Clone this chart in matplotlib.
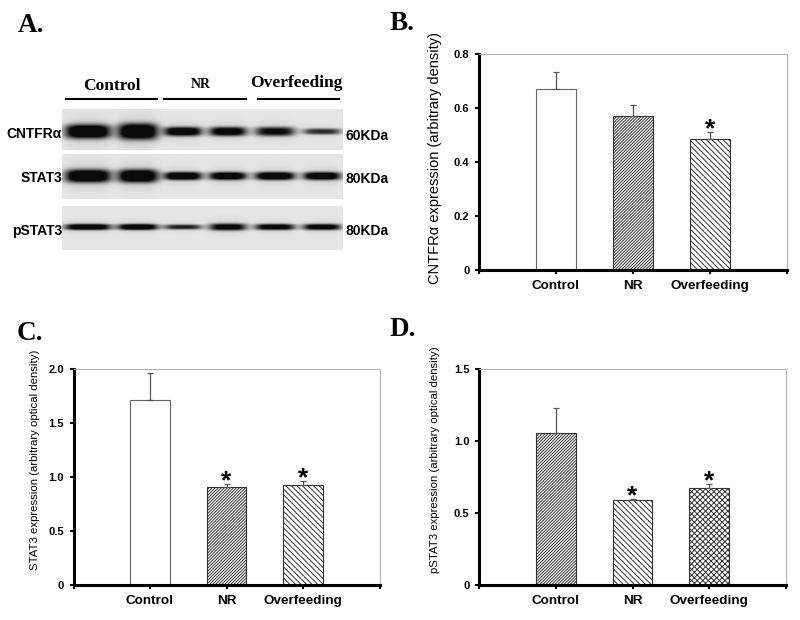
import numpy as np
import matplotlib.pyplot as plt

plt.rcParams['font.family'] = ['Liberation Sans', 'DejaVu Sans']
plt.rcParams['hatch.linewidth'] = 0.7

groups = ['Control', 'NR', 'Overfeeding']

# B. CNTFRa
cntfr_mean = [0.669, 0.570, 0.484]
cntfr_err = [0.063, 0.040, 0.026]
cntfr_star = [False, False, True]

# C. STAT3
stat3_mean = [1.713, 0.905, 0.926]
stat3_err = [0.247, 0.027, 0.037]
stat3_star = [False, True, True]

# D. pSTAT3
pstat3_mean = [1.053, 0.588, 0.671]
pstat3_err = [0.176, 0.012, 0.030]
pstat3_star = [False, True, True]

# A. western blot, six lanes (2 per group)
blot_rows = ['CNTFR\u03b1', 'STAT3', 'pSTAT3']
blot_kda = ['60KDa', '80KDa', '80KDa']
cntfr_band = [1.0, 1.0, 0.9, 0.85, 0.75, 0.6]
cntfr_thick = [14, 16, 9, 9, 9, 6]
stat3_band = [1.0, 1.0, 0.95, 0.9, 0.95, 0.9]
stat3_thick = [13, 13, 8, 8, 8, 8]
pstat3_band = [0.95, 0.95, 0.65, 0.8, 0.85, 0.85]
pstat3_thick = [6, 6, 5, 7, 6, 6]

W, H = 800, 620
fig = plt.figure(figsize=(8, 6.2), dpi=100)

def rect(x0, y0, x1, y1):
    return [x0 / W, 1 - y1 / H, (x1 - x0) / W, (y1 - y0) / H]

# ---------- panel A ----------
ax_a = fig.add_axes([0, 0, 1, 1])
ax_a.axis('off')

lane_x = [88, 138, 183, 228, 275, 322]
lane_w = [46, 40, 38, 38, 40, 38]
strips = [(109, 150, 131.5), (154, 199, 176), (206, 250, 227)]
bands = [(cntfr_band, cntfr_thick), (stat3_band, stat3_thick), (pstat3_band, pstat3_thick)]
bx0, bx1 = 62, 343
for (ya, yb, yc), (dark, thick) in zip(strips, bands):
    X, Y = np.meshgrid(np.arange(bx0, bx1) + 0.5, np.arange(ya, yb) + 0.5)
    img = np.full(X.shape, 0.90)
    for i in range(6):
        px_ = np.exp(-np.abs((X - lane_x[i]) / (lane_w[i] / 2)) ** 4)
        py_ = np.exp(-np.abs((Y - yc) / (thick[i] / 2)) ** 3)
        halo = np.exp(-((Y - yc) / thick[i]) ** 2)
        img -= dark[i] * px_ * (1.1 * py_ + 0.12 * halo)
    ax_a.imshow(np.clip(img, 0.04, 1), cmap='gray', vmin=0, vmax=1,
                extent=(bx0, bx1, yb, ya), aspect='auto', interpolation='bilinear')

ax_a.set_xlim(0, W)
ax_a.set_ylim(H, 0)

serif = dict(family=['Liberation Serif', 'DejaVu Serif'], fontweight='bold')
ax_a.text(112, 89.5, 'Control', ha='center', va='baseline', fontsize=12.5, **serif)
ax_a.text(201, 87.5, 'NR', ha='center', va='baseline', fontsize=10, **serif)
ax_a.text(296, 87, 'Overfeeding', ha='center', va='baseline', fontsize=12.5, **serif)
for xa, xb in [(66, 157), (164, 246), (258, 339)]:
    ax_a.plot([xa, xb], [98.7, 98.7], color='black', lw=1.5)

row_base = [138, 181.5, 235]
kda_base = [140, 183, 235]
for name, kda, yb1, yb2 in zip(blot_rows, blot_kda, row_base, kda_base):
    ax_a.text(62, yb1, name, ha='right', va='baseline', fontsize=10, fontweight='bold')
    ax_a.text(345, yb2, kda, ha='left', va='baseline', fontsize=10, fontweight='bold')

# panel letters
for letter, xl, yl in [('A.', 18, 31.5), ('B.', 390, 29.5), ('C.', 17, 340), ('D.', 390, 336)]:
    fig.text(xl / W, 1 - yl / H, letter, ha='left', va='baseline', fontsize=19.5, **serif)


# ---------- bar panels ----------
def bar_panel(r, means, errs, stars, hatches, ymax, yticks, ytlabels, ylabel, ylsize, lab_xy):
    ax = fig.add_axes(r)
    x = np.arange(1, 4)
    for xi, m, h in zip(x, means, hatches):
        if h:
            ax.bar(xi, m, width=0.52, color='white', edgecolor='#333333', lw=0.8, hatch=h, zorder=2)
        else:
            ax.bar(xi, m, width=0.52, color='white', edgecolor='#666666', lw=0.8, zorder=2)
    ax.errorbar(x, means, yerr=[np.zeros(3), errs], fmt='none', ecolor='#555555',
                elinewidth=0.9, capsize=2.5, capthick=0.9, zorder=3)
    for xi, m, e, s in zip(x, means, errs, stars):
        if s:
            ax.annotate('*', xy=(xi, m + e), xytext=(0, 2), textcoords='offset points',
                        ha='center', va='center', fontsize=19, fontweight='bold')
    ax.set_xlim(0, 4)
    ax.set_ylim(0, ymax)
    ax.set_xticks([0, 1, 2, 3, 4])
    ax.set_xticklabels([''] + groups + [''], fontweight='bold', fontsize=9.7)
    ax.set_yticks(yticks)
    ax.set_yticklabels(ytlabels, fontweight='bold', fontsize=8)
    ax.tick_params(axis='x', direction='out', length=3, width=1.5, pad=4)
    ax.tick_params(axis='y', direction='out', length=3, width=1.5, pad=4)
    for sp in ['left', 'bottom']:
        ax.spines[sp].set_linewidth(2.2)
        ax.spines[sp].set_color('black')
    for sp in ['top', 'right']:
        ax.spines[sp].set_linewidth(0.8)
        ax.spines[sp].set_color('#b5b5b5')
    ax.set_ylabel(ylabel, fontsize=ylsize, va='center', rotation_mode='default')
    ax.yaxis.set_label_coords(*lab_xy)
    return ax


dense = '/' * 11
sparse = '\\' * 6
cross = 'x' * 6

bar_panel(rect(479, 54, 787, 270), cntfr_mean, cntfr_err, cntfr_star,
          [None, dense, sparse], 0.8, [0, 0.2, 0.4, 0.6, 0.8],
          ['0', '0.2', '0.4', '0.6', '0.8'],
          'CNTFR\u03b1 expression (arbitrary density)', 10.5, (-0.143, 0.52))

bar_panel(rect(73.5, 369, 379.5, 585), stat3_mean, stat3_err, stat3_star,
          [None, dense, sparse], 2.0, [0, 0.5, 1.0, 1.5, 2.0],
          ['0', '0.5', '1.0', '1.5', '2.0'],
          'STAT3 expression (arbitrary optical density)', 8.2, (-0.126, 0.58))

bar_panel(rect(479, 369, 786, 585), pstat3_mean, pstat3_err, pstat3_star,
          [dense, sparse, cross], 1.5, [0, 0.5, 1.0, 1.5],
          ['0', '0.5', '1.0', '1.5'],
          'pSTAT3 expression (arbitrary optical density)', 8.2, (-0.143, 0.58))

fig.savefig('out.png', dpi=100)
